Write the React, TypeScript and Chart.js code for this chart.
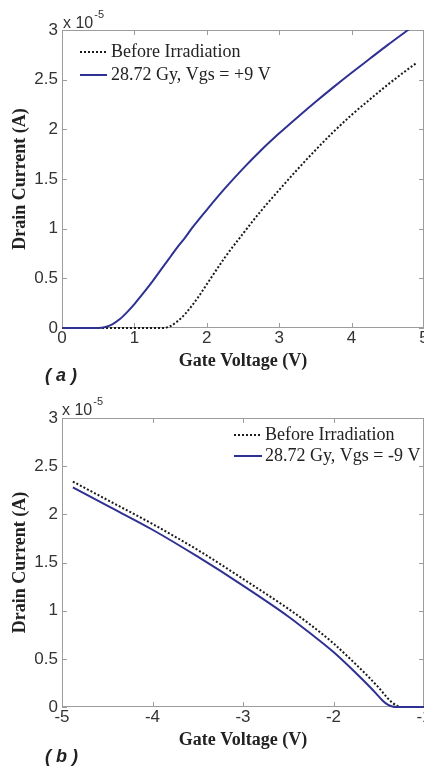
import React, { useEffect, useRef } from "react";
import { Chart, registerables } from "chart.js";

Chart.register(...registerables);

// ---------------- data (drain current in units of 1e-5 A) ----------------
// Panel (a): positive gate sweep
const gateVoltageA = [0, 0.5, 0.6, 0.7, 0.8, 0.9, 1.0, 1.1, 1.25, 1.4, 1.5, 1.6, 1.7, 1.8, 1.9, 2.0, 2.25, 2.5, 2.75, 3.0, 3.25, 3.5, 3.75, 4.0, 4.25, 4.5, 4.75, 4.9];
const beforeA = [0, 0, 0, 0, 0, 0, 0, 0, 0, 0, 0.02, 0.07, 0.14, 0.23, 0.33, 0.44, 0.71, 0.95, 1.18, 1.39, 1.595, 1.79, 1.975, 2.145, 2.3, 2.45, 2.59, 2.67];
const irradA = [0, 0, 0.01, 0.04, 0.09, 0.16, 0.24, 0.33, 0.47, 0.62, 0.72, 0.82, 0.91, 1.01, 1.1, 1.19, 1.405, 1.605, 1.79, 1.96, 2.12, 2.275, 2.425, 2.57, 2.71, 2.85, 2.985, 3.065];

// Panel (b): negative gate sweep
const gateVoltageB = [-4.88, -4.5, -4.0, -3.5, -3.0, -2.5, -2.25, -2.0, -1.75, -1.6, -1.5, -1.45, -1.4, -1.35, -1.3, -1.25, -1.0];
const beforeB = [2.34, 2.15, 1.9, 1.63, 1.33, 1.02, 0.85, 0.66, 0.44, 0.3, 0.2, 0.145, 0.09, 0.045, 0.014, 0, 0];
const irradB = [2.28, 2.09, 1.84, 1.56, 1.26, 0.94, 0.76, 0.57, 0.35, 0.21, 0.11, 0.06, 0.025, 0.005, 0, 0, 0];

const seriesLabelBefore = "Before Irradiation";
const seriesLabelA = "28.72 Gy, Vgs = +9 V";
const seriesLabelB = "28.72 Gy, Vgs = -9 V";
const xTitle = "Gate Voltage (V)";
const yTitle = "Drain Current (A)";
const multiplierBase = "x 10";
const multiplierExp = "-5";

// ---------------- styling ----------------
const SANS = "'Liberation Sans', Arial, sans-serif";
const SERIF = "'Liberation Serif', 'Times New Roman', serif";
const FRAME = "#9c9c9c";
const TEXT = "#333333";
const BLUE = "#2E3192";
const BLACK = "#1a1a1a";

const matlabPlugin = {
  id: "matlab",
  beforeDatasetsDraw(chart: any, _a: any, o: any) {
    const { ctx, chartArea: a } = chart;
    const xs = chart.scales.x;
    const ys = chart.scales.y;
    ctx.save();
    ctx.strokeStyle = FRAME;
    ctx.lineWidth = 1;
    ctx.strokeRect(a.left + 0.5, a.top + 0.5, a.right - a.left - 1, a.bottom - a.top - 1);
    ctx.beginPath();
    const L = o.tickLen;
    xs.ticks.forEach((t: any) => {
      const p = Math.round(xs.getPixelForValue(t.value)) + 0.5;
      ctx.moveTo(p, a.bottom);
      ctx.lineTo(p, a.bottom - L);
      ctx.moveTo(p, a.top);
      ctx.lineTo(p, a.top + L);
    });
    ys.ticks.forEach((t: any) => {
      const p = Math.round(ys.getPixelForValue(t.value)) + 0.5;
      ctx.moveTo(a.left, p);
      ctx.lineTo(a.left + L, p);
      ctx.moveTo(a.right, p);
      ctx.lineTo(a.right - L, p);
    });
    ctx.stroke();
    ctx.restore();
  },
  afterDraw(chart: any, _a: any, o: any) {
    const { ctx } = chart;
    ctx.save();
    // legend
    const lg = o.legend;
    chart.data.datasets.forEach((d: any, i: number) => {
      const y = lg.y + i * lg.rowGap;
      ctx.beginPath();
      ctx.setLineDash(d.borderDash || []);
      ctx.strokeStyle = d.borderColor;
      ctx.lineWidth = d.borderWidth;
      ctx.moveTo(lg.x, y);
      ctx.lineTo(lg.x + lg.lineLen, y);
      ctx.stroke();
      ctx.setLineDash([]);
      ctx.fillStyle = "#222";
      ctx.font = `18px ${SERIF}`;
      ctx.textBaseline = "middle";
      ctx.textAlign = "left";
      ctx.fillText(d.label, lg.x + lg.lineLen + lg.gap, y);
    });
    // multiplier
    const m = o.multiplier;
    ctx.fillStyle = TEXT;
    ctx.textBaseline = "alphabetic";
    ctx.font = `16px ${SANS}`;
    ctx.fillText(multiplierBase, m.x, m.y);
    const w = ctx.measureText(multiplierBase).width;
    ctx.font = `11px ${SANS}`;
    ctx.fillText(multiplierExp, m.x + w + 1, m.y - 10);
    // panel label
    const p = o.panel;
    ctx.fillStyle = "#222";
    ctx.font = `italic bold 18px ${SANS}`;
    ctx.textBaseline = "middle";
    ctx.fillText(p.text, p.x, p.y);
    ctx.restore();
  },
};

type Spec = {
  canvasH: number;
  areaTop: number;
  areaBottom: number;
  xMin: number;
  xMax: number;
  xs: number[];
  before: number[];
  irrad: number[];
  irradLabel: string;
  legend: any;
  multiplier: any;
  panel: any;
};

const fmt = (v: any) => String(Math.round(Number(v) * 100) / 100);

function build(canvas: HTMLCanvasElement, s: Spec) {
  const tickFont = { family: SANS, size: 17 };
  const titleFont = { family: SERIF, size: 18, weight: "bold" as const };
  const clip = { left: 2, top: 0, right: 0, bottom: 3 };
  return new Chart(canvas, {
    type: "line",
    data: {
      datasets: [
        {
          label: seriesLabelBefore,
          data: s.xs.map((v, i) => ({ x: v, y: s.before[i] })),
          borderColor: BLACK,
          borderWidth: 2,
          borderDash: [2, 2],
          pointRadius: 0,
          cubicInterpolationMode: "monotone",
          fill: false,
          order: 1,
          clip,
        } as any,
        {
          label: s.irradLabel,
          data: s.xs.map((v, i) => ({ x: v, y: s.irrad[i] })),
          borderColor: BLUE,
          borderWidth: 2,
          pointRadius: 0,
          cubicInterpolationMode: "monotone",
          fill: false,
          order: 0,
          clip,
        } as any,
      ],
    },
    options: {
      animation: false,
      responsive: false,
      devicePixelRatio: 1,
      events: [],
      layout: { padding: { top: s.areaTop, left: 0, right: 0, bottom: 0 } },
      plugins: {
        legend: { display: false },
        tooltip: { enabled: false },
        matlab: { tickLen: 5, legend: s.legend, multiplier: s.multiplier, panel: s.panel },
      } as any,
      scales: {
        x: {
          type: "linear",
          min: s.xMin,
          max: s.xMax,
          grid: { display: false, drawTicks: false },
          border: { display: false },
          ticks: { stepSize: 1, font: tickFont, color: TEXT, padding: 0, autoSkip: false, maxRotation: 0, callback: fmt },
          title: { display: true, text: xTitle, font: titleFont, color: "#222", padding: { top: 0, bottom: 20 } },
          afterFit: (sc: any) => {
            sc.height = s.canvasH - s.areaBottom;
            sc.paddingLeft = 0;
            sc.paddingRight = 0;
          },
        },
        y: {
          type: "linear",
          min: 0,
          max: 3,
          grid: { display: false, drawTicks: false },
          border: { display: false },
          ticks: { stepSize: 0.5, font: tickFont, color: TEXT, padding: 4, autoSkip: false, callback: fmt },
          title: { display: true, text: yTitle, font: titleFont, color: "#222", padding: { top: 10, bottom: 0 } },
          afterFit: (sc: any) => {
            sc.width = 62;
            sc.paddingTop = 0;
            sc.paddingBottom = 0;
          },
        },
      },
    },
    plugins: [matlabPlugin as any],
  });
}

const H_A = 392;
const H_B = 379;

export default function App() {
  const refA = useRef<HTMLCanvasElement>(null);
  const refB = useRef<HTMLCanvasElement>(null);

  useEffect(() => {
    const a = build(refA.current!, {
      canvasH: H_A,
      areaTop: 30,
      areaBottom: 328,
      xMin: 0,
      xMax: 5,
      xs: gateVoltageA,
      before: beforeA,
      irrad: irradA,
      irradLabel: seriesLabelA,
      legend: { x: 80, y: 52, rowGap: 23, lineLen: 27, gap: 4 },
      multiplier: { x: 63, y: 28 },
      panel: { text: "( a )", x: 45, y: 376 },
    });
    const b = build(refB.current!, {
      canvasH: H_B,
      areaTop: 26,
      areaBottom: 315,
      xMin: -5,
      xMax: -1,
      xs: gateVoltageB,
      before: beforeB,
      irrad: irradB,
      irradLabel: seriesLabelB,
      legend: { x: 234, y: 43, rowGap: 21, lineLen: 28, gap: 3 },
      multiplier: { x: 62, y: 23 },
      panel: { text: "( b )", x: 45, y: 365 },
    });
    return () => {
      a.destroy();
      b.destroy();
    };
  }, []);

  return (
    <div style={{ position: "absolute", left: 0, top: 0, width: 424, height: 771, background: "#fff", overflow: "hidden" }}>
      <canvas ref={refA} width={424} height={H_A} style={{ position: "absolute", left: 0, top: 0, width: 424, height: H_A }} />
      <canvas ref={refB} width={424} height={H_B} style={{ position: "absolute", left: 0, top: H_A, width: 424, height: H_B }} />
    </div>
  );
}
